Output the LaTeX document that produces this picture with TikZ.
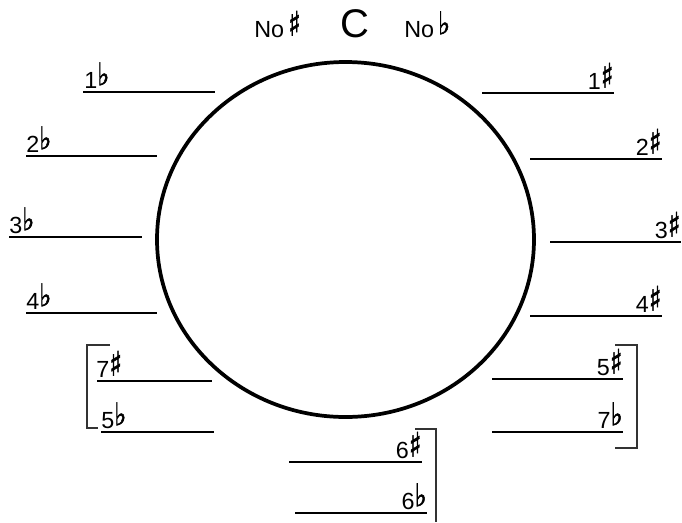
\documentclass[tikz,border=0pt]{standalone}
\usepackage{fontspec}
\setmainfont{Liberation Sans}
\newfontfamily\djv[FakeBold=1.8]{DejaVu Sans}
\newcommand\shp{{\djv\raisebox{1pt}{\scalebox{1.15}[1.45]{♯}}}}
\newcommand\flt{{\djv\raisebox{2pt}{\scalebox{1.1}[1.35]{♭}}}}
\begin{document}
\begin{tikzpicture}[x=0.75pt,y=-0.75pt,
  lbl/.style={inner sep=0pt,font=\fontsize{17.5pt}{20pt}\selectfont},
  lw/.style={lbl,anchor=base west},
  le/.style={lbl,anchor=base east},
  rule/.style={line width=1.7pt},
  brk/.style={line width=0.8pt,draw=black!80}]
\useasboundingbox (0,0) rectangle (682,522);
% circle
\draw[line width=2.8pt] (345.5,239.5) ellipse [x radius=188.5, y radius=177.5];
% top labels
\node[lbl,anchor=base] (c) at (355,37) {\fontsize{30pt}{33pt}\selectfont C};
\node[lw] (nosharp) at (254,37) {No\,\shp};
\node[lw] (noflat) at (404,37) {No\,\flt};
% left lines
\draw[rule] (83,92) -- (215,92);
\node[lw] (f1) at (84,88) {1\flt};
\draw[rule] (26,156) -- (157,156);
\node[lw] (f2) at (26,152) {2\flt};
\draw[rule] (9,237) -- (142,237);
\node[lw] (f3) at (9,233) {3\flt};
\draw[rule] (26,313) -- (157,313);
\node[lw] (f4) at (26,309) {4\flt};
\draw[rule] (97,381) -- (212,381);
\node[lw] (s7) at (96,377) {7\shp};
\draw[rule] (101,432) -- (214,432);
\node[lw] (f5) at (101,428) {5\flt};
% right lines
\draw[rule] (482,93) -- (614,93);
\node[le] (s1) at (614,89) {1\shp};
\draw[rule] (530,159) -- (662,159);
\node[le] (s2) at (662,155) {2\shp};
\draw[rule] (550,242) -- (681,242);
\node[le] (s3) at (681,238) {3\shp};
\draw[rule] (530,316) -- (662,316);
\node[le] (s4) at (662,312) {4\shp};
\draw[rule] (492,379) -- (623,379);
\node[le] (s5) at (623,375) {5\shp};
\draw[rule] (492,432) -- (623,432);
\node[le] (f7) at (623,428) {7\flt};
% bottom lines
\draw[rule] (289,462) -- (422,462);
\node[le] (s6) at (422,458) {6\shp};
\draw[rule] (295,513) -- (427,513);
\node[le] (f6) at (427,509) {6\flt};
% brackets
\draw[brk] (110,345) -- (87,345) -- (87,428) -- (98,428);
\draw[brk] (615,345) -- (637,345) -- (637,448) -- (615,448);
\draw[brk] (415,429) -- (436,429) -- (436,522);
\end{tikzpicture}
\end{document}
